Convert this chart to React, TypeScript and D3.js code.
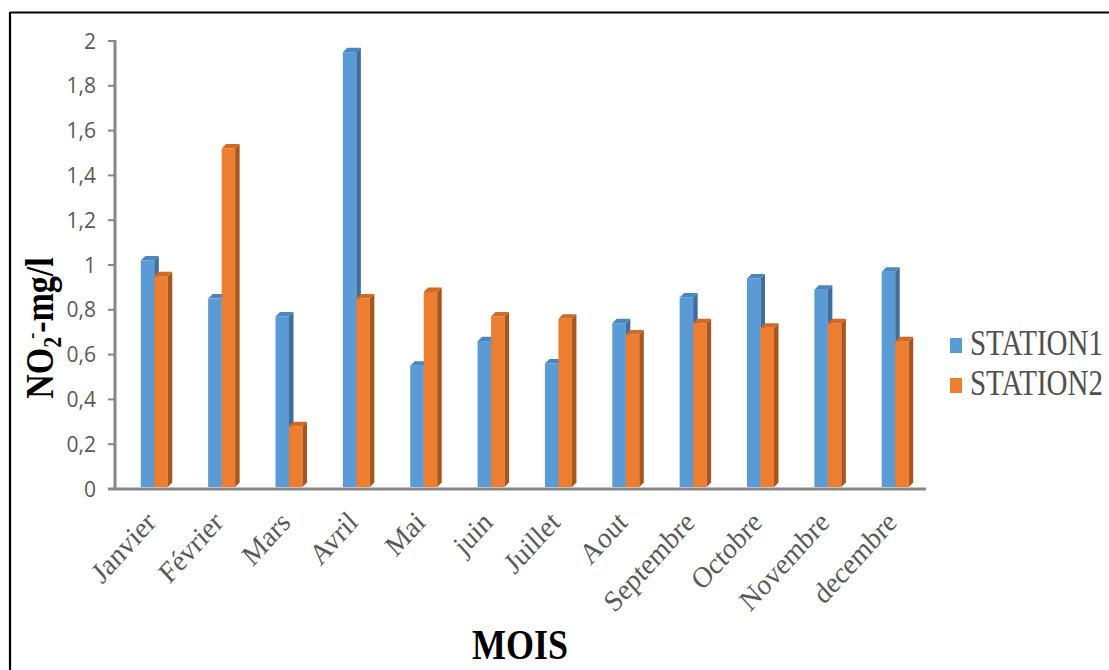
import React from "react";
import * as d3 from "d3";

const categories = ["Janvier", "Février", "Mars", "Avril", "Mai", "juin", "Juillet", "Aout", "Septembre", "Octobre", "Novembre", "decembre"];
const station1 = [1.04, 0.87, 0.79, 1.97, 0.57, 0.68, 0.58, 0.76, 0.875, 0.96, 0.91, 0.99];
const station2 = [0.97, 1.54, 0.30, 0.87, 0.90, 0.79, 0.78, 0.71, 0.76, 0.74, 0.76, 0.68];
const yTicks = [0, 0.2, 0.4, 0.6, 0.8, 1, 1.2, 1.4, 1.6, 1.8, 2];
const seriesNames = ["STATION1", "STATION2"];

const COLORS = [
  { front: "#5B9BD5", side: "#3E6E9E", top: "#4A86C0" },
  { front: "#ED7D31", side: "#A9561D", top: "#D26A24" },
];

export default function App() {
  const W = 1109, H = 670;
  const y = d3.scaleLinear().domain([0, 2]).range([489, 41]);
  const x = d3.scalePoint<string>().domain(categories).range([120.6, 928.9]).padding(0.5);
  const bw = 13.5;
  const d = 4.5;
  const floor = 487;
  const fmt = (v: number) => String(+v.toFixed(1)).replace(".", ",");
  const axisColor = "#878787";
  const serif = "'Liberation Serif', 'Times New Roman', serif";

  const bar = (cx: number, v: number, si: number, key: string) => {
    const x0 = si === 0 ? cx - bw : cx;
    const top = y(v) + d;
    const c = COLORS[si];
    return (
      <g key={key}>
        <rect x={x0} y={top} width={bw} height={floor - top} fill={c.front} />
        <polygon points={`${x0 + bw},${top} ${x0 + bw + d},${top - d} ${x0 + bw + d},${floor - d} ${x0 + bw},${floor}`} fill={c.side} />
        <polygon points={`${x0},${top} ${x0 + d},${top - d} ${x0 + bw + d},${top - d} ${x0 + bw},${top}`} fill={c.top} />
      </g>
    );
  };

  return (
    <svg width={W} height={H} style={{ position: "absolute", left: 0, top: 0, background: "#fff" }}>
      <rect x={0} y={0} width={W} height={H} fill="#fff" />
      {/* frame */}
      <line x1={10} y1={12.5} x2={W} y2={12.5} stroke="#000" strokeWidth={2.2} />
      <line x1={10} y1={12} x2={10} y2={H} stroke="#000" strokeWidth={2.2} />

      {/* bars */}
      {categories.map((c, i) => {
        const cx = x(c)!;
        return (
          <g key={c}>
            {bar(cx, station1[i], 0, c + "s1")}
            {bar(cx, station2[i], 1, c + "s2")}
          </g>
        );
      })}

      {/* y axis */}
      <line x1={115} y1={y(2) - 1} x2={115} y2={y(0)} stroke={axisColor} strokeWidth={3} />
      {yTicks.map((t) => (
        <g key={t}>
          <line x1={108} x2={115} y1={y(t)} y2={y(t)} stroke={axisColor} strokeWidth={2} />
          <text x={96} y={y(t)} dy="0.36em" textAnchor="end" fontFamily="'Open Sans', sans-serif" fontSize={21} fill="#595959">
            {fmt(t)}
          </text>
        </g>
      ))}
      {/* x axis */}
      <line x1={108} x2={926} y1={y(0)} y2={y(0)} stroke={axisColor} strokeWidth={3} />

      {/* category labels */}
      {categories.map((c) => (
        <text
          key={c}
          transform={`translate(${x(c)! + 3},${524}) scale(1,1.1) rotate(-45)`}
          textAnchor="end"
          fontFamily={serif}
          fontSize={27}
          fill="#595959"
        >
          {c}
        </text>
      ))}

      {/* x title */}
      <text
        transform={`translate(520,659) scale(1,1.2)`}
        textAnchor="middle"
        fontFamily={serif}
        fontWeight="bold"
        fontSize={36}
        fill="#000"
      >
        MOIS
      </text>

      {/* y title */}
      <text
        transform={`translate(53,328) rotate(-90) scale(1,1.15)`}
        textAnchor="middle"
        fontFamily={serif}
        fontWeight="bold"
        fontSize={34}
        fill="#000"
      >
        NO
        <tspan fontSize={22} dy={7}>2</tspan>
        <tspan fontSize={18} dy={-20} dx={-2}>-</tspan>
        <tspan dy={13}>-mg/l</tspan>
      </text>

      {/* legend */}
      {seriesNames.map((s, i) => (
        <g key={s}>
          <rect x={950} y={338 + i * 40} width={12} height={15} fill={COLORS[i].front} />
          <text
            transform={`translate(970,${355 + i * 40}) scale(1,1.2)`}
            fontFamily={serif}
            fontSize={29}
            fill="#505050"
          >
            {s}
          </text>
        </g>
      ))}
    </svg>
  );
}
